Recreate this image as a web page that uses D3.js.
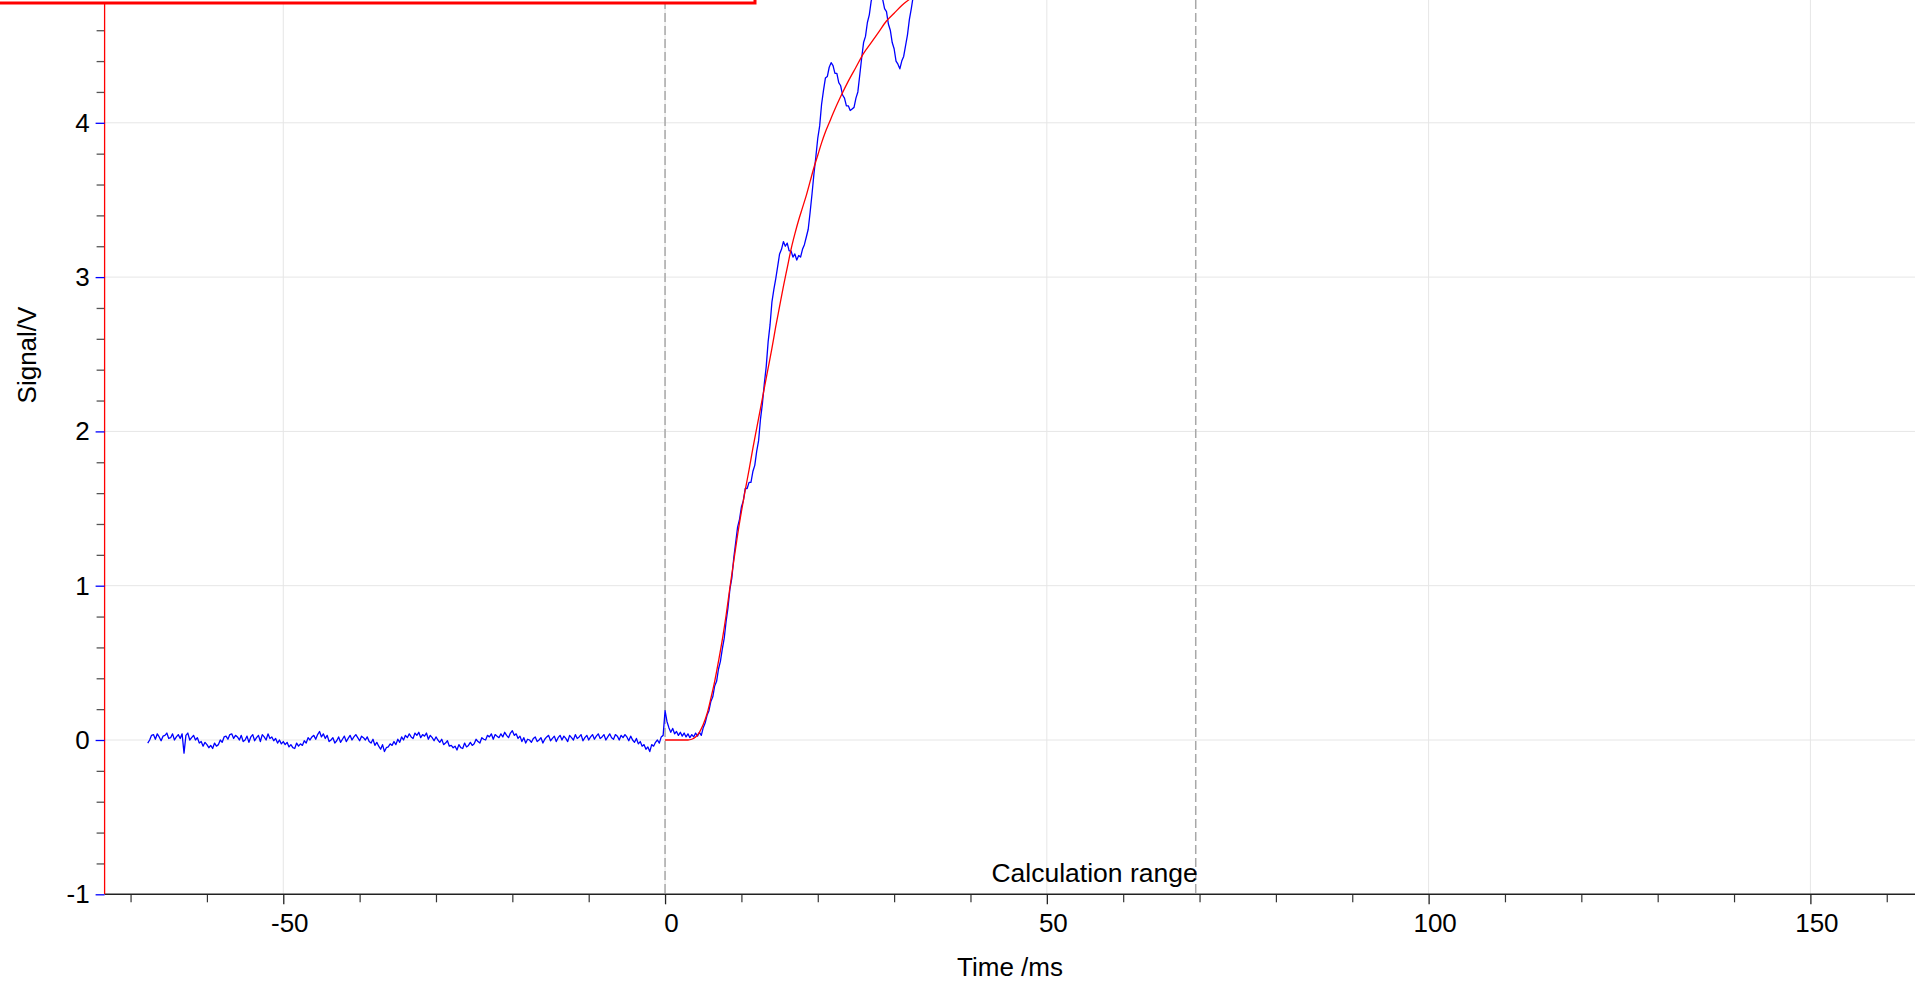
<!DOCTYPE html>
<html>
<head>
<meta charset="utf-8">
<script src="https://cdn.jsdelivr.net/npm/d3@7"></script>
<style>
  html, body { margin: 0; padding: 0; background: #fff; overflow: hidden; }
  svg { display: block; font-family: "Liberation Sans", Arial, Helvetica, sans-serif; }
</style>
</head>
<body>
<svg id="chart" width="1927" height="983"></svg>
<script>
// Recorded trace: uniform sampling from signalStartMs, one value every sampleStepMs
const signalStartMs = -67.75;
const sampleStepMs = 0.25;
const signalVolts = [
  -0.02,
  0.0, 0.03, 0.035, 0.005, 0.04, 0.02, -0.005, 0.025,
  0.03, 0.045, 0.01, 0.015, 0.04, 0.0, 0.02, 0.035,
  0.01, 0.04, -0.085, 0.03, 0.045, 0.0, 0.015, 0.03,
  0.0, 0.015, -0.02, -0.01, -0.04, -0.015, -0.03, -0.05,
  -0.035, -0.055, -0.02, -0.04, -0.03, 0.0, -0.015, 0.02,
  0.025, 0.005, 0.035, 0.04, 0.01, 0.03, 0.02, 0.0,
  0.03, -0.01, 0.0, 0.025, -0.015, 0.02, 0.035, -0.005,
  0.015, 0.03, -0.01, 0.035, 0.02, 0.0, 0.04, 0.01,
  0.02, -0.005, 0.01, -0.02, 0.0, -0.025, -0.01, -0.03,
  -0.015, -0.045, -0.03, -0.05, -0.055, -0.02, -0.04, -0.025,
  -0.035, -0.005, -0.02, 0.015, 0.0, 0.02, 0.03, 0.005,
  0.035, 0.055, 0.02, 0.04, 0.01, 0.03, -0.01, 0.0,
  0.015, -0.02, -0.005, 0.02, -0.015, 0.005, 0.025, -0.01,
  0.01, 0.03, 0.0, 0.02, 0.035, 0.015, -0.005, 0.025,
  0.015, 0.0, 0.02, -0.01, -0.02, 0.005, -0.035, -0.015,
  -0.04, -0.06, -0.03, -0.075, -0.05, -0.045, -0.025, -0.035,
  -0.01, -0.03, 0.005, -0.015, 0.02, 0.0, 0.03, 0.015,
  0.04, 0.02, 0.01, 0.045, 0.03, 0.05, 0.015, 0.035,
  0.025, 0.045, 0.005, 0.03, 0.015, -0.005, 0.02, 0.0,
  -0.015, 0.005, -0.03, -0.02, -0.005, -0.04, -0.035, -0.05,
  -0.04, -0.065, -0.03, -0.05, -0.055, -0.02, -0.045, -0.035,
  -0.015, -0.035, -0.025, 0.005, -0.01, -0.02, 0.015, 0.005,
  0.0, 0.03, 0.02, 0.04, 0.005, 0.035, 0.025, 0.015,
  0.04, 0.02, 0.05, 0.03, 0.015, 0.045, 0.06, 0.03,
  0.04, 0.01, 0.025, -0.01, 0.015, -0.02, 0.005, 0.0,
  -0.015, 0.01, 0.02, -0.01, 0.0, 0.015, -0.02, 0.005,
  0.02, 0.03, -0.005, 0.01, 0.025, -0.01, 0.015, 0.03,
  0.0, 0.025, 0.01, -0.01, 0.03, 0.015, 0.0, 0.035,
  0.01, 0.02, 0.035, -0.005, 0.015, 0.03, 0.0, 0.02,
  0.035, 0.005, 0.025, 0.04, 0.01, 0.02, 0.035, 0.0,
  0.02, 0.04, 0.015, 0.005, 0.035, 0.025, 0.0, 0.03,
  0.015, 0.035, 0.02, -0.005, 0.025, 0.0, -0.015, 0.01,
  -0.025, -0.01, -0.04, -0.03, -0.06, -0.045, -0.075, -0.03,
  -0.04, -0.015, 0.0, -0.02, 0.02, 0.03,
  // from the trigger (0 ms) on
  0.19, 0.12, 0.08, 0.05, 0.075, 0.04, 0.055, 0.03,
  0.05, 0.025, 0.045, 0.02, 0.04, 0.015, 0.035, 0.02,
  0.045, 0.025, 0.05, 0.03,
  0.08, 0.11, 0.16, 0.19, 0.25, 0.28, 0.35, 0.38,
  0.46, 0.51, 0.59, 0.66, 0.77, 0.86, 0.98, 1.05,
  1.18, 1.28, 1.38, 1.43, 1.51, 1.55, 1.63, 1.63,
  1.67, 1.67, 1.74, 1.78, 1.87, 1.94, 2.08, 2.18,
  2.31, 2.42, 2.58, 2.69, 2.84, 2.92, 2.99, 3.07,
  3.15, 3.18, 3.23, 3.20, 3.22, 3.17, 3.17, 3.13,
  3.15, 3.11, 3.14, 3.13, 3.18, 3.21, 3.26, 3.31,
  3.42, 3.54, 3.67, 3.78, 3.90, 3.98, 4.12, 4.21,
  4.29, 4.30, 4.36, 4.39, 4.37, 4.32, 4.32, 4.26,
  4.24, 4.18, 4.16, 4.11, 4.11, 4.08, 4.09, 4.10,
  4.16, 4.20, 4.31, 4.42, 4.52, 4.56, 4.65, 4.70,
  4.79, 4.83, 4.89, 4.89, 4.90, 4.84, 4.80, 4.74,
  4.72, 4.64, 4.60, 4.52, 4.48, 4.40, 4.38, 4.35,
  4.40, 4.43, 4.50, 4.57, 4.67, 4.74, 4.82, 4.87,
  4.96, 5.01, 5.08
];

// Fitted response curve
const fitTimesMs = [0, 1, 2, 3, 3.5, 4, 4.5, 5, 5.5, 6, 6.5, 7, 7.5, 8, 8.5, 9, 9.5, 10, 10.5, 11,
  11.5, 12, 12.5, 13, 13.5, 14, 14.5, 15, 15.5, 16, 16.5, 17, 17.5, 18, 18.5, 19, 19.5, 20,
  20.5, 21, 21.5, 22, 23, 24, 25, 26, 27, 28, 29, 30, 31, 32, 33, 34];
const fitVolts = [0, 0, 0, 0, 0.005, 0.02, 0.05, 0.1, 0.17, 0.27, 0.38, 0.51, 0.65, 0.81, 0.99, 1.16, 1.33, 1.48, 1.62, 1.75,
  1.89, 2.02, 2.15, 2.28, 2.41, 2.54, 2.68, 2.81, 2.94, 3.06, 3.18, 3.28, 3.37, 3.45, 3.53, 3.62, 3.71, 3.79,
  3.87, 3.94, 4.00, 4.06, 4.17, 4.27, 4.36, 4.45, 4.52, 4.59, 4.66, 4.71, 4.76, 4.80, 4.84, 4.87];

const xMajorTicks = [-50, 0, 50, 100, 150];
const xMinorTicks = [-70, -60, -40, -30, -20, -10, 10, 20, 30, 40, 60, 70, 80, 90, 110, 120, 130, 140, 160];
const yMajorTicks = [-1, 0, 1, 2, 3, 4];
const yMinorTicks = [-0.8, -0.6, -0.4, -0.2, 0.2, 0.4, 0.6, 0.8, 1.2, 1.4, 1.6, 1.8, 2.2, 2.4, 2.6, 2.8,
  3.2, 3.4, 3.6, 3.8, 4.2, 4.4, 4.6];
const triggerMs = 0;
const calcRangeEndMs = 69.5;
const calcRangeLabel = "Calculation range";
const xTitle = "Time /ms";
const yTitle = "Signal/V";

// ---- layout ----
const plotLeft = 104.6, plotRight = 1915, plotBottom = 894.3;
const svg = d3.select("#chart");
const x = d3.scaleLinear().domain([-73.4, 163.7]).range([plotLeft, plotRight]);
const y = d3.scaleLinear().domain([-1, 4.8]).range([plotBottom, plotBottom - 5.8 * 154.3]);
const fontSize = 26;

svg.append("defs").append("clipPath").attr("id", "plotClip")
  .append("rect").attr("x", plotLeft).attr("y", -50)
  .attr("width", plotRight - plotLeft).attr("height", plotBottom + 50);

// grid
const grid = svg.append("g").attr("stroke", "#e6e6e6").attr("stroke-width", 1);
grid.selectAll(".gx").data(xMajorTicks).join("line")
  .attr("x1", d => x(d)).attr("x2", d => x(d)).attr("y1", 0).attr("y2", plotBottom);
grid.selectAll(".gy").data(yMajorTicks.filter(d => d > -1)).join("line")
  .attr("x1", plotLeft).attr("x2", plotRight).attr("y1", d => y(d)).attr("y2", d => y(d));

// x axis: minor ticks, then major ticks with labels
const xMinorAxis = d3.axisBottom(x).tickValues(xMinorTicks).tickSize(8).tickFormat("");
const gxMinor = svg.append("g").attr("transform", `translate(0,${plotBottom})`).call(xMinorAxis);
gxMinor.select(".domain").remove();
gxMinor.selectAll(".tick line").attr("stroke", "#333").attr("stroke-width", 1.2);

const xAxis = d3.axisBottom(x).tickValues(xMajorTicks).tickSize(10).tickPadding(9).tickFormat(d3.format("d"));
const gx = svg.append("g").attr("transform", `translate(0,${plotBottom})`).call(xAxis);
gx.select(".domain").attr("d", `M${plotLeft},0H${plotRight}`).attr("stroke", "#222").attr("stroke-width", 1.5);
gx.selectAll(".tick line").attr("stroke", "#222").attr("stroke-width", 1.3);
gx.selectAll(".tick text").attr("font-size", fontSize).attr("fill", "#000")
  .attr("font-family", "Liberation Sans, Arial, sans-serif").attr("dx", 6)
  .text(d => d < 0 ? "-" + Math.abs(d) : String(d));

// y axis
const yMinorAxis = d3.axisLeft(y).tickValues(yMinorTicks).tickSize(8).tickFormat("");
const gyMinor = svg.append("g").attr("transform", `translate(${plotLeft},0)`).call(yMinorAxis);
gyMinor.select(".domain").remove();
gyMinor.selectAll(".tick line").attr("stroke", "#555").attr("stroke-width", 1.3);

const yAxis = d3.axisLeft(y).tickValues(yMajorTicks).tickSize(9).tickPadding(6).tickFormat(d3.format("d"));
const gy = svg.append("g").attr("transform", `translate(${plotLeft},0)`).call(yAxis);
gy.select(".domain").attr("d", `M0,-10V${plotBottom}`).attr("stroke", "#ff0000").attr("stroke-width", 1.3);
gy.selectAll(".tick line").attr("stroke", "#0000ff").attr("stroke-width", 1.3);
gy.selectAll(".tick text").attr("font-size", fontSize).attr("fill", "#000")
  .attr("font-family", "Liberation Sans, Arial, sans-serif")
  .text(d => d < 0 ? "-" + Math.abs(d) : String(d));

// markers: trigger and end of calculation range
const markers = svg.append("g").attr("stroke", "#a8a8a8").attr("stroke-width", 1.5)
  .attr("stroke-dasharray", "9,4");
markers.selectAll("line").data([triggerMs, calcRangeEndMs]).join("line")
  .attr("x1", d => x(d)).attr("x2", d => x(d)).attr("y1", 0).attr("y2", plotBottom);

svg.append("text").attr("x", x(calcRangeEndMs) + 2).attr("y", 882)
  .attr("text-anchor", "end").attr("font-size", 26.5).attr("fill", "#000")
  .text(calcRangeLabel);

// traces
const plot = svg.append("g").attr("clip-path", "url(#plotClip)");
const signalPoints = signalVolts.map((v, i) => [signalStartMs + i * sampleStepMs, v]);
plot.append("path").datum(signalPoints)
  .attr("fill", "none").attr("stroke", "#0000ff").attr("stroke-width", 1.3)
  .attr("stroke-linejoin", "round")
  .attr("d", d3.line().x(d => x(d[0])).y(d => y(d[1])));

const fitPoints = fitTimesMs.map((t, i) => [t, fitVolts[i]]);
plot.append("path").datum(fitPoints)
  .attr("fill", "none").attr("stroke", "#ff0000").attr("stroke-width", 1.3)
  .attr("d", d3.line().x(d => x(d[0])).y(d => y(d[1])).curve(d3.curveMonotoneX));

// titles
svg.append("text").attr("x", 1010).attr("y", 976).attr("text-anchor", "middle")
  .attr("font-size", 26).attr("fill", "#000").text(xTitle);
svg.append("text").attr("transform", "translate(36,355) rotate(-90)").attr("text-anchor", "middle")
  .attr("font-size", 26).attr("fill", "#000").text(yTitle);

// legend frame, extending above the visible area
svg.append("rect").attr("x", -10).attr("y", -120).attr("width", 765).attr("height", 123)
  .attr("fill", "#fff").attr("stroke", "#ff0000").attr("stroke-width", 3);
</script>
</body>
</html>
